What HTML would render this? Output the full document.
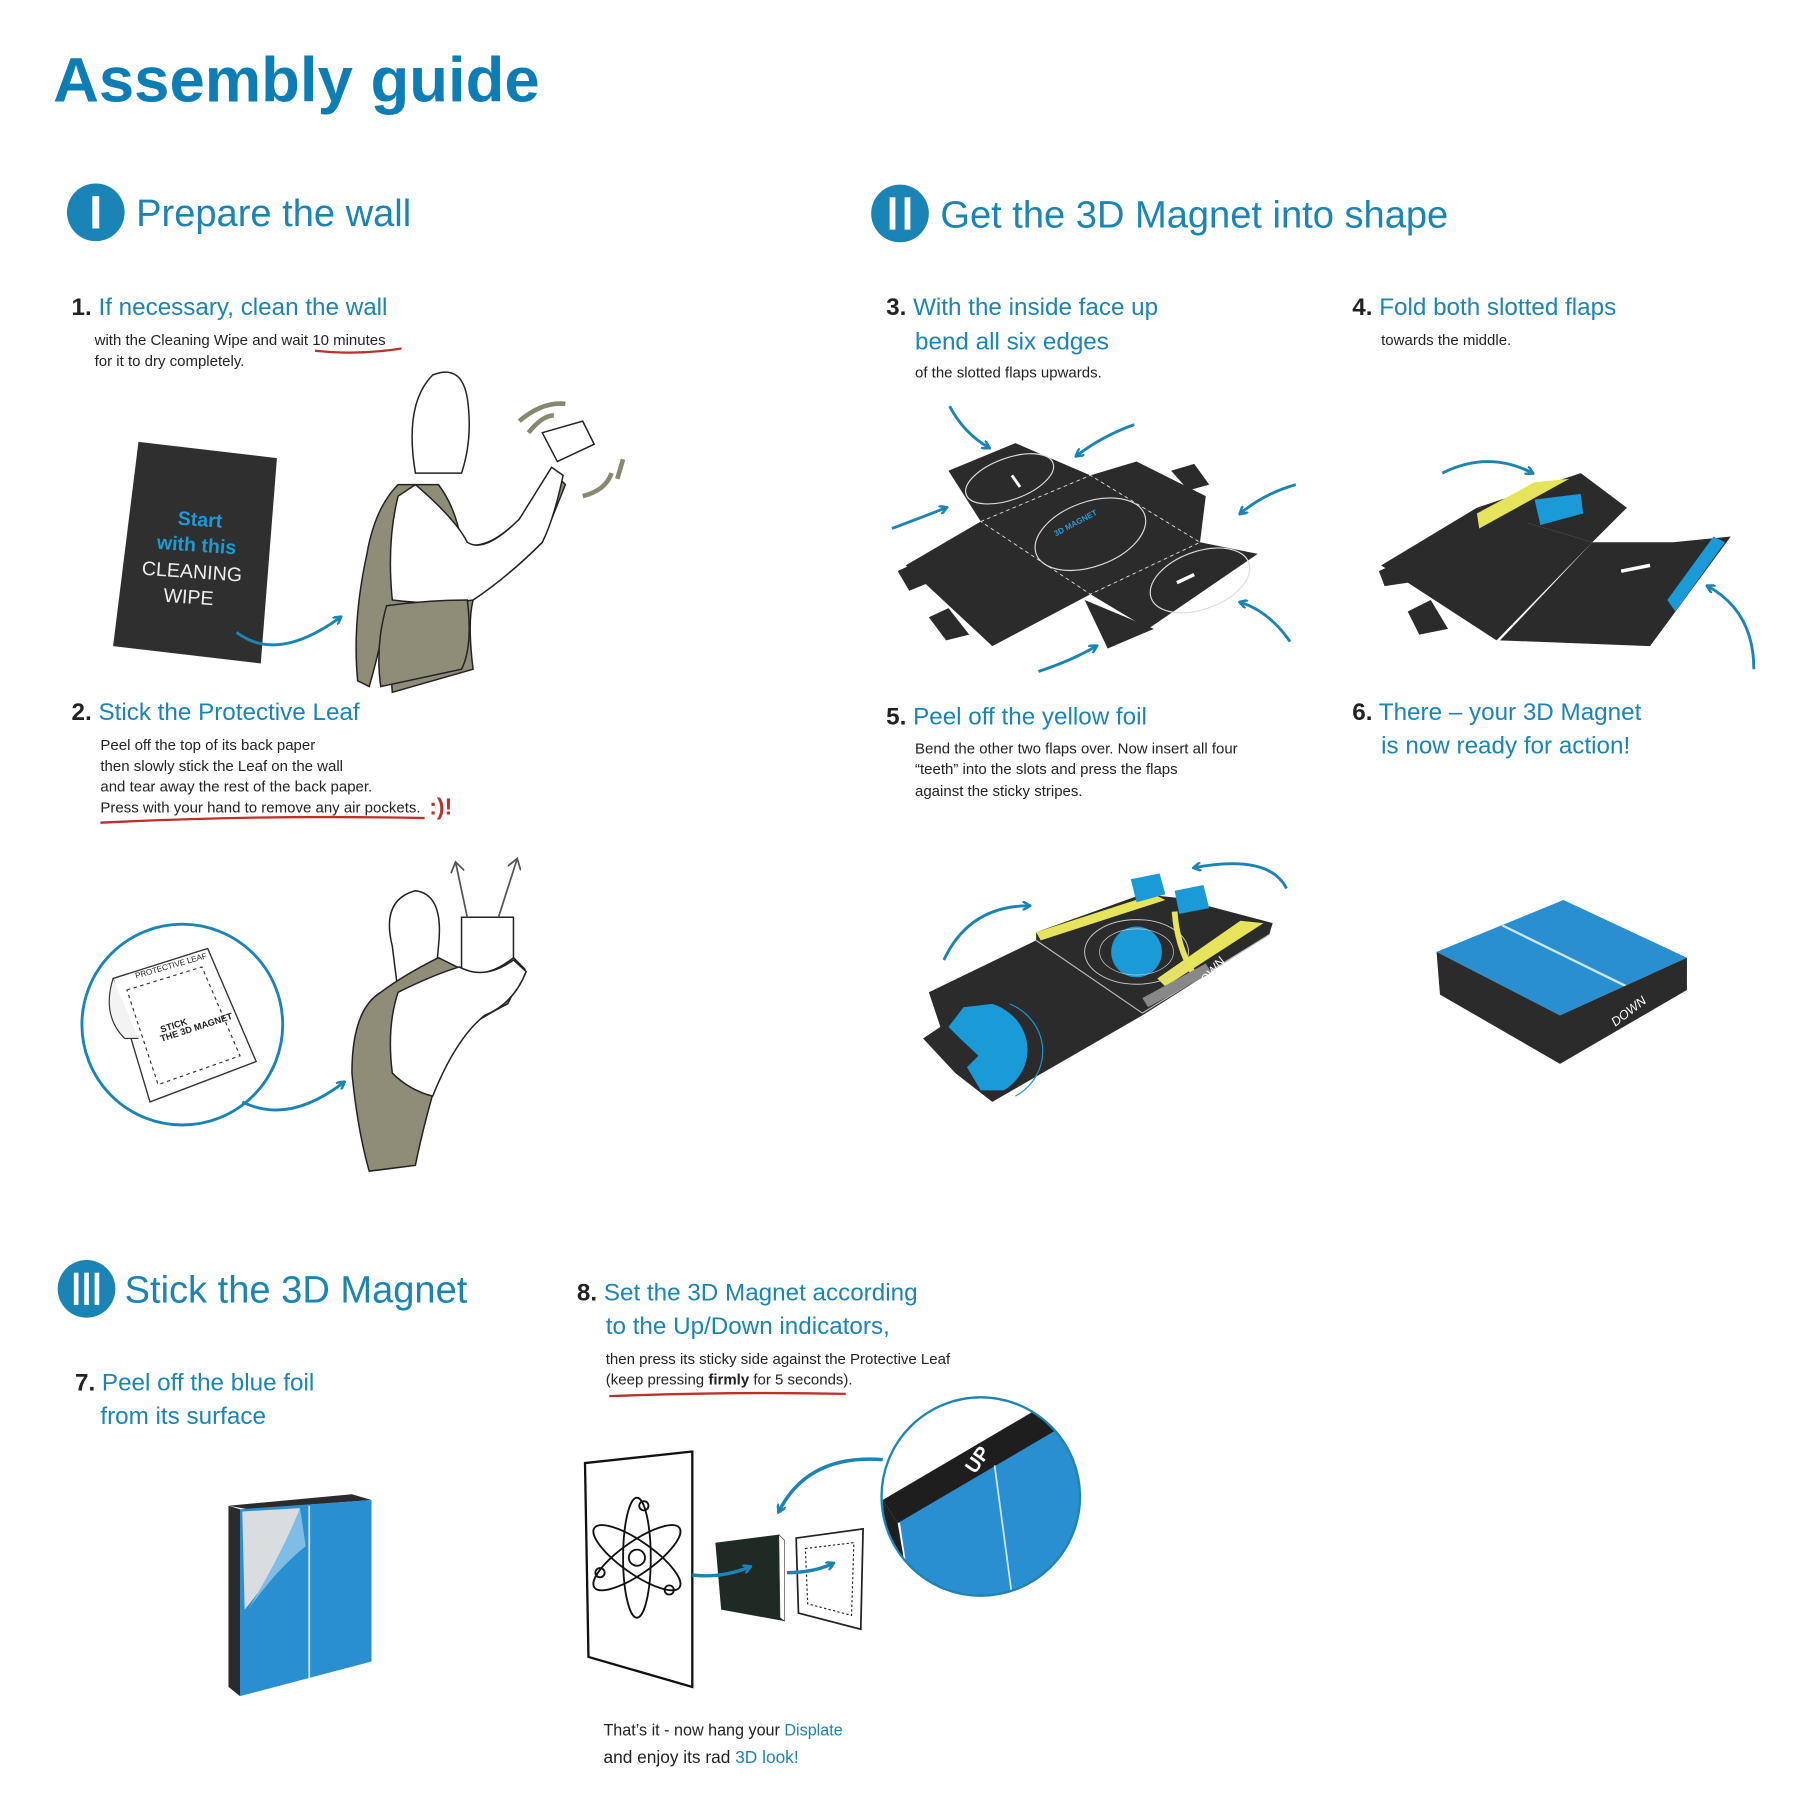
<!DOCTYPE html>
<html><head><meta charset="utf-8"><style>
html,body{margin:0;padding:0;background:#fff;}
svg{display:block;}
text{font-family:"Liberation Sans",sans-serif;}
.h{fill:#1a84b6;}
.s{fill:#222;font-size:13px;}
.st{font-size:21px;fill:#1a84b6;}
.n{fill:#222;font-weight:bold;}
</style></head><body>
<svg width="1800" height="1800" viewBox="0 0 1560 1560" xmlns="http://www.w3.org/2000/svg">
<rect width="1560" height="1560" fill="#fff"/>
<defs>
<marker id="ah" markerWidth="8" markerHeight="8" refX="6" refY="4" orient="auto" markerUnits="userSpaceOnUse"><path d="M0,0 L7,4 L0,8" fill="none" stroke="#1a84b6" stroke-width="2.2"/></marker>
<marker id="ag" markerWidth="12" markerHeight="12" refX="8" refY="6" orient="auto" markerUnits="userSpaceOnUse"><path d="M0,0 L9,6 L0,12" fill="none" stroke="#555" stroke-width="1.5"/></marker>
</defs>

<text x="46" y="88" font-size="55" font-weight="bold" fill="#0d7db5">Assembly guide</text>

<circle cx="83" cy="184" r="25" fill="#1a84b6"/>
<rect x="80" y="170" width="6" height="28" fill="#fff"/>
<text x="118" y="196" font-size="33" class="h">Prepare the wall</text>

<text x="62" y="273" font-size="21"><tspan class="n">1.</tspan><tspan class="h"> If necessary, clean the wall</tspan></text>
<text x="82" y="299" class="s">with the Cleaning Wipe and wait 10 minutes</text>
<text x="82" y="317" class="s">for it to dry completely.</text>
<path d="M273,304 Q310,308 348,302" stroke="#c0302a" stroke-width="2" fill="none"/>

<polygon points="120,383 240,397 226,575 98,560" fill="#2f2f2f"/>
<text transform="translate(173,456) rotate(4)" text-anchor="middle" font-size="17" font-weight="bold" fill="#1a9ad6">Start</text>
<text transform="translate(170,478) rotate(4)" text-anchor="middle" font-size="17" font-weight="bold" fill="#1a9ad6">with this</text>
<text transform="translate(166,501) rotate(4)" text-anchor="middle" font-size="17" fill="#eee">CLEANING</text>
<text transform="translate(163,523) rotate(4)" text-anchor="middle" font-size="17" fill="#eee">WIPE</text>
<path d="M205,548 Q240,575 295,535" stroke="#1a84b6" stroke-width="2.5" fill="none" marker-end="url(#ah)"/>

<g stroke="#222" stroke-width="1.3">
<path d="M360,410 Q350,350 375,325 Q400,315 405,345 Q410,380 400,410 Z" fill="#fff"/>
<path d="M345,420 Q325,440 318,480 Q305,540 310,590 L320,595 Q330,560 335,530 L340,600 L410,580 Q405,540 410,520 Q440,500 470,470 L490,420 L480,410 L450,450 Q420,480 400,470 Q395,440 380,420 Z" fill="#8f8d78"/>
<path d="M360,420 Q395,450 405,470 Q420,480 450,450 L478,405 L488,412 Q480,450 470,470 Q440,500 410,520 Q380,525 340,520 Q335,470 345,430 Z" fill="#fff"/>
<polygon points="470,375 505,365 515,385 483,400" fill="#fff"/>
<path d="M335,525 Q370,520 405,520 Q410,560 400,580 L330,595 Q325,560 335,525 Z" fill="#8f8d78"/>
</g>
<path d="M450,365 Q470,348 490,350 M458,375 Q470,360 480,360" stroke="#888870" stroke-width="4" fill="none"/>
<path d="M505,430 Q525,425 530,410 M535,415 L540,398" stroke="#888870" stroke-width="4" fill="none"/>

<text x="62" y="624" font-size="21"><tspan class="n">2.</tspan><tspan class="h"> Stick the Protective Leaf</tspan></text>
<text x="87" y="650" class="s">Peel off the top of its back paper</text>
<text x="87" y="668" class="s">then slowly stick the Leaf on the wall</text>
<text x="87" y="686" class="s">and tear away the rest of the back paper.</text>
<text x="87" y="704" class="s">Press with your hand to remove any air pockets.</text>
<text x="372" y="706" font-size="20" font-weight="bold" fill="#c0302a">:)!</text>
<path d="M87,713 Q230,706 368,709" stroke="#c0302a" stroke-width="2" fill="none"/>

<circle cx="158" cy="888" r="87" fill="#fff" stroke="#1a84b6" stroke-width="2.5"/>
<polygon points="98,848 180,822 222,920 130,955" fill="#fff" stroke="#333" stroke-width="1.2"/>
<polygon points="110,858 175,838 208,915 137,940" fill="none" stroke="#333" stroke-width="1" stroke-dasharray="3,3"/>
<path d="M98,848 Q88,880 108,900 L120,900" fill="#f3f3f3" stroke="#333" stroke-width="1"/>
<text transform="translate(118,848) rotate(-16)" font-size="7" fill="#222">PROTECTIVE LEAF</text>
<text transform="translate(140,895) rotate(-18)" font-size="8" fill="#222" font-weight="bold">STICK</text>
<text transform="translate(140,903) rotate(-18)" font-size="8" fill="#222" font-weight="bold">THE 3D MAGNET</text>
<path d="M210,955 Q250,975 298,938" stroke="#1a84b6" stroke-width="2.5" fill="none" marker-end="url(#ah)"/>

<g stroke="#222" stroke-width="1.3">
<polygon points="400,795 445,795 445,850 400,850" fill="#fff"/>
<path d="M340,820 Q330,780 360,772 Q385,775 380,820 Q378,850 370,860 L345,860 Z" fill="#fff"/>
<path d="M330,860 Q305,875 305,930 Q310,980 320,1015 L360,1010 Q370,960 390,900 Q420,880 440,870 L455,840 L445,830 Q420,850 400,840 L380,830 Q350,845 330,860 Z" fill="#8f8d78"/>
<path d="M345,860 Q375,845 398,838 Q420,850 445,832 L456,842 Q445,870 420,880 Q395,900 375,950 Q355,945 340,930 Q335,890 345,860 Z" fill="#fff"/>
</g>
<path d="M405,795 L395,748" stroke="#555" stroke-width="1.5" marker-end="url(#ag)"/>
<path d="M432,795 L448,745" stroke="#555" stroke-width="1.5" marker-end="url(#ag)"/>

<circle cx="780" cy="185" r="25" fill="#1a84b6"/>
<rect x="771" y="171" width="5" height="28" fill="#fff"/>
<rect x="784" y="171" width="5" height="28" fill="#fff"/>
<text x="815" y="197" font-size="33" class="h">Get the 3D Magnet into shape</text>

<text x="768" y="273" font-size="21"><tspan class="n">3.</tspan><tspan class="h"> With the inside face up</tspan></text>
<text x="793" y="303" class="st">bend all six edges</text>
<text x="793" y="327" class="s">of the slotted flaps upwards.</text>

<text x="1172" y="273" font-size="21"><tspan class="n">4.</tspan><tspan class="h"> Fold both slotted flaps</tspan></text>
<text x="1197" y="299" class="s">towards the middle.</text>

<g fill="#2b2b2b">
<polygon points="822,408 880,384 945,412 850,452"/>
<polygon points="850,452 945,412 1040,470 945,515"/>
<polygon points="945,412 985,400 1045,430 1040,470"/>
<polygon points="785,490 850,452 945,515 860,560"/>
<polygon points="945,515 1040,470 1090,480 995,545"/>
<polygon points="940,520 1000,545 960,562"/>
<polygon points="778,495 795,487 805,505 788,512"/>
<polygon points="805,535 822,527 840,550 820,555"/>
<polygon points="1015,408 1035,402 1048,420 1030,425"/>
</g>
<ellipse cx="945" cy="463" rx="50" ry="28" fill="none" stroke="#ddd" stroke-width="1" transform="rotate(-20 945 463)"/>
<ellipse cx="1040" cy="503" rx="45" ry="25" fill="none" stroke="#ddd" stroke-width="1" transform="rotate(-20 1040 503)"/>
<ellipse cx="875" cy="415" rx="40" ry="18" fill="none" stroke="#ddd" stroke-width="1" transform="rotate(-20 875 415)"/>
<line x1="1020" y1="505" x2="1035" y2="498" stroke="#fff" stroke-width="3"/>
<line x1="877" y1="412" x2="884" y2="422" stroke="#fff" stroke-width="2.5"/>
<text transform="translate(915,465) rotate(-28)" font-size="7" fill="#2a9ad6" font-weight="bold">3D MAGNET</text>
<g stroke="#ddd" stroke-dasharray="3,3" fill="none" stroke-width="0.8">
<polyline points="850,452 945,412 1040,470 945,515 850,452"/>
</g>
<g stroke="#1a84b6" stroke-width="2.5" fill="none" marker-end="url(#ah)">
<path d="M823,352 Q835,375 857,388"/>
<path d="M983,368 Q955,378 933,395"/>
<path d="M773,458 Q800,448 820,440"/>
<path d="M1123,420 Q1095,428 1075,445"/>
<path d="M1118,556 Q1100,530 1075,522"/>
<path d="M900,582 Q930,572 950,560"/>
</g>

<g fill="#2b2b2b">
<polygon points="1197,490 1280,440 1380,470 1297,555"/>
<polygon points="1280,440 1370,410 1410,440 1380,470"/>
<polygon points="1300,555 1380,470 1450,470 1500,465 1430,560"/>
<polygon points="1282,445 1370,412 1380,430 1295,465"/>
<polygon points="1195,495 1210,488 1220,505 1200,508"/>
<polygon points="1220,530 1240,520 1255,545 1230,550"/>
</g>
<polygon points="1280,445 1330,418 1360,415 1282,458" fill="#e6e45a"/>
<polygon points="1330,433 1370,428 1372,445 1335,455" fill="#1a9ad6"/>
<polygon points="1445,520 1485,465 1495,470 1452,530" fill="#1a9ad6"/>
<line x1="1405" y1="495" x2="1430" y2="490" stroke="#fff" stroke-width="3"/>
<g stroke="#1a84b6" stroke-width="2.5" fill="none" marker-end="url(#ah)">
<path d="M1250,410 Q1290,390 1328,410"/>
<path d="M1520,580 Q1520,530 1480,508"/>
</g>

<text x="768" y="628" font-size="21"><tspan class="n">5.</tspan><tspan class="h"> Peel off the yellow foil</tspan></text>
<text x="793" y="653" class="s">Bend the other two flaps over. Now insert all four</text>
<text x="793" y="671" class="s">“teeth” into the slots and press the flaps</text>
<text x="793" y="690" class="s">against the sticky stripes.</text>

<text x="1172" y="624" font-size="21"><tspan class="n">6.</tspan><tspan class="h"> There – your 3D Magnet</tspan></text>
<text x="1197" y="653" class="st">is now ready for action!</text>

<!-- image 5 -->
<g fill="#2b2b2b">
<polygon points="805,860 898,815 898,808 990,775 1020,778 1103,800 1100,810 990,880 860,955 828,930 800,900 815,890"/>
</g>
<polygon points="898,808 1000,775 1010,780 902,815" fill="#e6e45a"/>
<polygon points="1075,798 1095,800 1010,855 1003,848" fill="#e6e45a"/>
<line x1="898" y1="815" x2="990" y2="878" stroke="#bbb" stroke-width="1"/>
<line x1="990" y1="878" x2="1100" y2="810" stroke="#bbb" stroke-width="1"/>
<circle cx="985" cy="825" r="22" fill="#1a9ad6"/>
<ellipse cx="985" cy="825" rx="45" ry="28" fill="none" stroke="#ccc" stroke-width="0.8"/>
<ellipse cx="985" cy="825" rx="32" ry="20" fill="none" stroke="#ccc" stroke-width="0.6"/>
<path d="M1018,790 Q1020,820 1035,845" stroke="#e6e45a" stroke-width="5" fill="none"/>
<polygon points="980,762 1005,757 1010,775 985,782" fill="#1a9ad6"/>
<polygon points="1018,772 1043,767 1048,787 1022,792" fill="#1a9ad6"/>
<path d="M860,870 A45,42 0 0 1 870,945 L850,945 L838,925 L848,915 L832,900 L822,890 L835,873 Z" fill="#1a9ad6"/>
<path d="M875,870 A48,45 0 0 1 880,950" fill="none" stroke="#1a9ad6" stroke-width="1"/>
<polygon points="990,865 1045,835 1050,843 995,873" fill="#888"/>
<text transform="translate(1040,860) rotate(-50)" font-size="11" font-style="italic" fill="#fff">DOWN</text>
<g stroke="#1a84b6" stroke-width="2.5" fill="none" marker-end="url(#ah)">
<path d="M818,832 Q840,785 892,785"/>
<path d="M1115,770 Q1100,740 1035,752"/>
</g>

<polygon points="1245,825 1355,780 1462,830 1352,880" fill="#2a8fd0"/>
<line x1="1302" y1="802" x2="1410" y2="855" stroke="#cfe7f5" stroke-width="2"/>
<polygon points="1245,825 1352,880 1352,922 1248,862" fill="#2b2b2b"/>
<polygon points="1352,880 1462,830 1462,858 1352,922" fill="#2b2b2b"/>
<text transform="translate(1400,890) rotate(-38)" font-size="11" font-style="italic" fill="#fff">DOWN</text>

<circle cx="75" cy="1117" r="25" fill="#1a84b6"/>
<rect x="64" y="1103" width="4" height="28" fill="#fff"/>
<rect x="73" y="1103" width="4" height="28" fill="#fff"/>
<rect x="82" y="1103" width="4" height="28" fill="#fff"/>
<text x="108" y="1129" font-size="33" class="h">Stick the 3D Magnet</text>

<text x="65" y="1205" font-size="21"><tspan class="n">7.</tspan><tspan class="h"> Peel off the blue foil</tspan></text>
<text x="87" y="1234" class="st">from its surface</text>

<polygon points="198,1305 305,1295 322,1300 215,1308" fill="#2b2b2b"/>
<polygon points="198,1305 208,1308 208,1470 198,1462" fill="#2b2b2b"/>
<polygon points="208,1308 322,1300 322,1440 208,1470" fill="#2a8fd0"/>
<path d="M210,1310 L260,1307 Q250,1350 212,1395 Z" fill="#d9dde0"/>
<path d="M260,1307 Q245,1345 215,1395 Q240,1360 265,1340 Z" fill="#7fbde6"/>
<line x1="268" y1="1305" x2="268" y2="1455" stroke="#cfe7f5" stroke-width="1.5"/>

<text x="500" y="1127" font-size="21"><tspan class="n">8.</tspan><tspan class="h"> Set the 3D Magnet according</tspan></text>
<text x="525" y="1156" class="st">to the Up/Down indicators,</text>
<text x="525" y="1182" class="s">then press its sticky side against the Protective Leaf</text>
<text x="525" y="1200" class="s">(keep pressing <tspan font-weight="bold">firmly</tspan> for 5 seconds).</text>
<path d="M528,1210 Q630,1206 733,1208" stroke="#c0302a" stroke-width="2" fill="none"/>

<polygon points="507,1268 600,1258 600,1462 510,1436" fill="#fff" stroke="#111" stroke-width="2"/>
<g fill="none" stroke="#111" stroke-width="1.6">
<ellipse cx="552" cy="1350" rx="12" ry="52"/>
<ellipse cx="552" cy="1350" rx="45" ry="14" transform="rotate(35 552 1350)"/>
<ellipse cx="552" cy="1350" rx="45" ry="14" transform="rotate(-35 552 1350)"/>
<circle cx="552" cy="1350" r="7"/>
<circle cx="558" cy="1305" r="4"/><circle cx="520" cy="1363" r="4"/><circle cx="580" cy="1378" r="4"/>
</g>
<polygon points="620,1337 675,1330 680,1335 680,1405 625,1395" fill="#1f2a24"/>
<polygon points="675,1330 680,1335 680,1405 676,1402" fill="#fff" stroke="#333" stroke-width="0.5"/>
<polygon points="690,1333 748,1325 746,1412 692,1398" fill="#fff" stroke="#222" stroke-width="1.5"/>
<polygon points="698,1342 740,1337 738,1400 700,1390" fill="none" stroke="#222" stroke-width="1" stroke-dasharray="2,2"/>
<g stroke="#1a84b6" stroke-width="3" fill="none" marker-end="url(#ah)">
<path d="M600,1365 Q625,1368 650,1358"/>
<path d="M682,1363 Q705,1363 722,1355"/>
<path d="M765,1265 Q700,1260 675,1310"/>
</g>
<clipPath id="cc"><circle cx="850" cy="1297" r="86"/></clipPath>
<g clip-path="url(#cc)">
<rect x="760" y="1200" width="180" height="200" fill="#fff"/>
<polygon points="765,1300 935,1205 945,1220 945,1400 795,1420 780,1320" fill="#2a8fd0"/>
<polygon points="765,1300 935,1200 945,1222 778,1320" fill="#1e1e1e"/>
<polygon points="765,1300 778,1320 795,1420 775,1420" fill="#1e1e1e"/>
<line x1="862" y1="1270" x2="878" y2="1390" stroke="#cfe7f5" stroke-width="1.5"/>
<text transform="translate(845,1278) rotate(-55)" font-size="17" font-weight="bold" fill="#fff">UP</text>
</g>
<circle cx="850" cy="1297" r="86" fill="none" stroke="#1a84b6" stroke-width="2"/>

<text x="523" y="1504" font-size="14" fill="#222">That’s it - now hang your <tspan fill="#1a84b6">Displate</tspan></text>
<text x="523" y="1528" font-size="15" fill="#222">and enjoy its rad <tspan fill="#1a84b6">3D look!</tspan></text>
</svg>
</body></html>
